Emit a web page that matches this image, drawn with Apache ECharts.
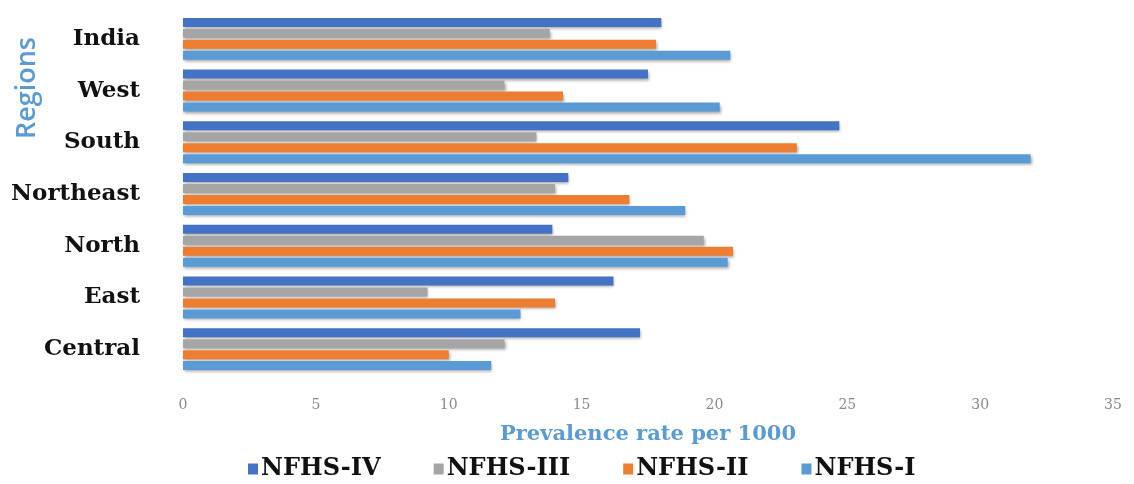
<!DOCTYPE html>
<html><head><meta charset="utf-8">
<script src="https://cdn.jsdelivr.net/npm/echarts@6/dist/echarts.min.js"></script>
<style>html,body{margin:0;padding:0;background:#fff}#c{width:1134px;height:484px}</style>
</head><body><div id="c"></div>
<script>
const categories = ['India','West','South','Northeast','North','East','Central'];
const seriesNames = ['NFHS-IV','NFHS-III','NFHS-II','NFHS-I'];
const nfhs4 = [18.0, 17.5, 24.7, 14.5, 13.9, 16.2, 17.2];
const nfhs3 = [13.8, 12.1, 13.3, 14.0, 19.6, 9.2, 12.1];
const nfhs2 = [17.8, 14.3, 23.1, 16.8, 20.7, 14.0, 10.0];
const nfhs1 = [20.6, 20.2, 31.9, 18.9, 20.5, 12.7, 11.6];
const xTicks = [0, 5, 10, 15, 20, 25, 30, 35];
const colors = ['#4472C4','#A5A5A5','#ED7D31','#5B9BD5'];
const values = [nfhs4, nfhs3, nfhs2, nfhs1];

const chart = echarts.init(document.getElementById('c'), null, {renderer:'canvas'});
chart.setOption({
  animation: false,
  backgroundColor: '#fff',
  grid: {left: 183, right: 21, top: 13, bottom: 109, containLabel: false},
  xAxis: {
    type: 'value', min: xTicks[0], max: xTicks[xTicks.length-1], interval: 5,
    splitLine: {show: false}, axisLine: {show: false}, axisTick: {show: false},
    axisLabel: {color: '#8a8a8a', fontFamily: 'DejaVu Serif', fontSize: 14, margin: 23},
    name: 'Prevalence rate per 1000', nameLocation: 'middle', nameGap: 49,
    nameTextStyle: {color: '#5B9BD5', fontFamily: 'DejaVu Serif', fontWeight: 'bold', fontSize: 21}
  },
  yAxis: {
    type: 'category', data: categories, inverse: true,
    axisLine: {show: false}, axisTick: {show: false}, splitLine: {show: false},
    axisLabel: {color: '#111', fontFamily: 'DejaVu Serif', fontWeight: 'bold', fontSize: 23, margin: 43}
  },
  legend: {
    data: seriesNames, left: 243, top: 452, itemWidth: 10, itemHeight: 11, itemGap: 53,
    icon: 'rect',
    textStyle: {color: '#111', fontFamily: 'DejaVu Serif', fontWeight: 'bold', fontSize: 24, padding: [0,0,0,-2]}
  },
  graphic: [{
    type: 'text', left: 14, top: 37, rotation: Math.PI/2, originX: 0, originY: 0,
    style: {text: 'Regions', fill: '#5B9BD5', font: '600 27px "Open Sans"'}
  }],
  series: seriesNames.map((n, i) => ({
    name: n, type: 'bar', data: values[i], barWidth: 9, barGap: '22%',
    itemStyle: {color: colors[i], shadowBlur: 3, shadowColor: 'rgba(0,0,0,0.35)', shadowOffsetY: 2, shadowOffsetX: 1}
  }))
});
</script></body></html>
